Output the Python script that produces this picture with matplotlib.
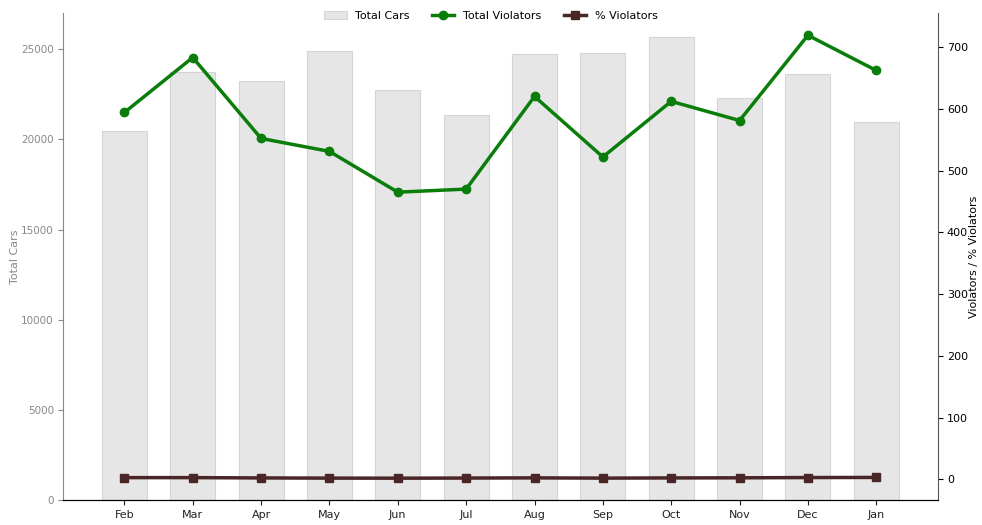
import matplotlib
matplotlib.use('Agg')
import matplotlib.pyplot as plt
import numpy as np

months = ['Feb', 'Mar', 'Apr', 'May', 'Jun', 'Jul', 'Aug', 'Sep', 'Oct', 'Nov', 'Dec', 'Jan']
total_cars = [20450, 23720, 23230, 24890, 22730, 21340, 24720, 24780, 25670, 22280, 23610, 20950]
total_violators = [594, 683, 552, 531, 465, 470, 620, 522, 612, 581, 719, 662]
pct_violators = [2.9, 2.9, 2.4, 2.1, 2.0, 2.2, 2.5, 2.1, 2.4, 2.6, 3.0, 3.2]

x = np.arange(len(months))

fig = plt.figure(figsize=(9.82, 5.25), dpi=100)
ax = fig.add_axes([0.064, 0.047, 0.891, 0.928])

bars = ax.bar(x, total_cars, width=0.66, color='#e6e6e6', edgecolor='#d4d4d4',
              linewidth=0.8, label='Total Cars')
ax.set_ylim(0, 27000)
ax.set_ylabel('Total Cars', color='#888888', fontsize=8, labelpad=1)
ax.tick_params(axis='y', colors='#888888', labelsize=7.5, pad=3)
ax.tick_params(axis='x', labelsize=8, colors='#222222')
ax.set_xticks(x)
ax.set_xticklabels(months)
ax.set_xlim(-0.9, 11.9)
ax.spines['top'].set_visible(False)
ax.spines['right'].set_visible(False)
ax.spines['left'].set_color('#888888')

ax2 = ax.twinx()
l1, = ax2.plot(x, total_violators, color='#0a7d0a', lw=2.5, marker='o', ms=6,
               label='Total Violators')
l2, = ax2.plot(x, pct_violators, color='#4a2626', lw=2.5, marker='s', ms=6,
               label='% Violators')
ax2.set_ylabel('Violators / % Violators', fontsize=8, labelpad=1)
ax2.tick_params(axis='y', labelsize=8, pad=3)
ax2.spines['top'].set_visible(False)
ax2.spines['left'].set_visible(False)
ax2.spines['right'].set_color('#555555')

fig.legend([bars, l1, l2], ['Total Cars', 'Total Violators', '% Violators'],
           loc='upper center', bbox_to_anchor=(0.5, 0.998), ncol=3, frameon=False,
           fontsize=8)

fig.savefig('out.png', dpi=100)
